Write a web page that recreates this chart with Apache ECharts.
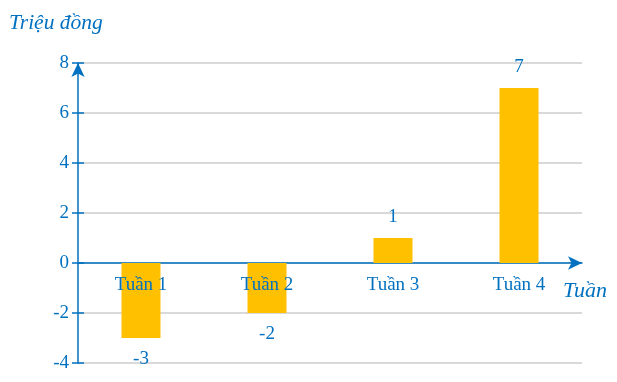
<!DOCTYPE html>
<html><head><meta charset="utf-8">
<script src="https://cdn.jsdelivr.net/npm/echarts@6/dist/echarts.min.js"></script>
<style>html,body{margin:0;padding:0;background:#fff}#c{width:617px;height:382px}</style>
</head><body><div id="c"></div>
<script>
const categories = ['Tuần 1', 'Tuần 2', 'Tuần 3', 'Tuần 4'];
const values = [-3, -2, 1, 7];
const yTicks = { min: -4, max: 8, interval: 2 };
const yTitle = 'Triệu đồng';
const xTitle = 'Tuần';

const blue = '#0070C0';
const font = 'Liberation Serif, Times New Roman, serif';
const chart = echarts.init(document.getElementById('c'), null, { renderer: 'canvas' });
chart.setOption({
  animation: false,
  grid: { left: 78, right: 35, top: 63, bottom: 19, containLabel: false, outerBoundsMode: 'none' },
  xAxis: {
    type: 'category', data: categories,
    axisLine: { onZero: true, lineStyle: { color: blue, width: 1.5 }, symbol: ['none', 'arrow'], symbolSize: [10, 14], symbolOffset: [0, 0] },
    axisTick: { show: false },
    axisLabel: { show: false }
  },
  yAxis: [{
    type: 'value', min: yTicks.min, max: yTicks.max, interval: yTicks.interval,
    axisLine: { show: true, lineStyle: { color: blue, width: 1.5 }, symbol: ['none', 'arrow'], symbolSize: [10, 14], symbolOffset: [0, 0] },
    axisTick: { show: true, length: 6, lineStyle: { color: blue, width: 1.5 } },
    axisLabel: { color: blue, fontFamily: font, fontSize: 19, margin: 9 },
    splitLine: { lineStyle: { color: '#D9D9D9', width: 2 } }
  }, {
    type: 'value', min: yTicks.min, max: yTicks.max, interval: yTicks.interval, position: 'left',
    axisLine: { show: false },
    axisTick: { show: true, inside: true, length: 6, lineStyle: { color: blue, width: 1.5 } },
    axisLabel: { show: false }, splitLine: { show: false }
  }],
  series: [{
    type: 'bar', barWidth: 39,
    data: values.map(v => ({ value: v, label: { position: v >= 0 ? 'top' : 'bottom', distance: v >= 0 ? 11 : 12 } })),
    itemStyle: { color: '#FFC000' },
    label: { show: true, color: blue, fontFamily: font, fontSize: 19 }
  }, {
    type: 'scatter', symbolSize: 1, itemStyle: { opacity: 0 }, z: 5,
    data: categories.map(c => [c, 0]),
    label: { show: true, position: 'bottom', distance: 12, opacity: 1, formatter: p => p.value[0], color: blue, fontFamily: font, fontSize: 19 }
  }],
  graphic: [
    { type: 'text', left: 9, top: 12, style: { text: yTitle, fill: blue, font: 'italic 21.5px ' + font } },
    { type: 'text', left: 563, top: 280, style: { text: xTitle, fill: blue, font: 'italic 22px ' + font } }
  ]
});
</script></body></html>
